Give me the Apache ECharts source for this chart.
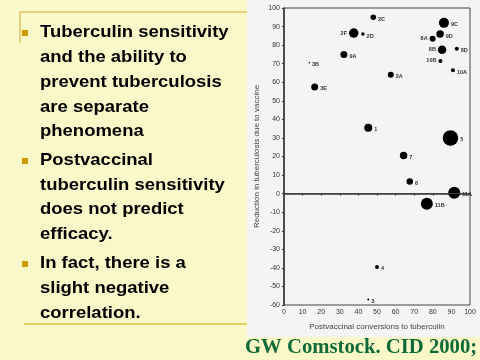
<!DOCTYPE html>
<html><head><meta charset="utf-8">
<script src="https://cdn.jsdelivr.net/npm/echarts@6/dist/echarts.min.js"></script>
<style>html,body{margin:0;padding:0;}#c{width:480px;height:360px;}</style>
</head><body><div id="c"></div>
<script>
var trialLabels = ['2C','2F','2D','9A','3B','3E','2A','1','5','7','9C','9D','8A','8B','8D','10B','10A','6','11A','11B','4','3'];
var conversions = [48,37.5,42.4,32.2,13.6,16.5,57.4,45.3,89.5,64.3,86,83.9,79.9,85,92.9,84.1,90.8,67.6,91.5,76.8,50,45.3];
var reduction =   [95,86.5,86,75,70.5,57.5,64,35.5,30,20.5,92,86,83.5,77.5,78,71.5,66.5,6.5,0.5,-5.5,-39.5,-57];
var bubbleWeight = [5.5,9.5,3.5,7,1.5,7,6,8,15.5,7.5,10,7.5,6,8.5,4,4,4,6.5,12,12,4,2];
var leftLabelTrials = ['2F','8A','8B','10B'];
var xTicks = [0,10,20,30,40,50,60,70,80,90,100];
var yTicks = [-60,-50,-40,-30,-20,-10,0,10,20,30,40,50,60,70,80,90,100];

var bulletLines = [
  {t:'Tuberculin sensitivity', b:true},
  {t:'and the ability to'},
  {t:'prevent tuberculosis'},
  {t:'are separate'},
  {t:'phenomena'},
  {t:'Postvaccinal', b:true},
  {t:'tuberculin sensitivity'},
  {t:'does not predict'},
  {t:'efficacy.'},
  {t:'In fact, there is a', b:true},
  {t:'slight negative'},
  {t:'correlation.'}
];
var lineY = [32,57,82,107,131,160,185,209,234,263,288,313];

var data = trialLabels.map(function(l,i){
  var left = leftLabelTrials.indexOf(l) >= 0;
  return {value:[conversions[i], reduction[i], bubbleWeight[i]], name:l,
    label:{position: left ? 'left' : 'right', offset:[0, left?0:2]}};
});

var graphics = [
  {type:'rect', z:-1, shape:{x:247,y:0,width:233,height:337}, style:{fill:'#F4F4F4'}, silent:true},
  {type:'line', shape:{x1:20,y1:12,x2:247,y2:12}, style:{stroke:'#E0C462',lineWidth:1.5}},
  {type:'line', shape:{x1:20,y1:12,x2:20,y2:43}, style:{stroke:'#E0C462',lineWidth:1.5}},
  {type:'line', shape:{x1:24,y1:324,x2:247,y2:324}, style:{stroke:'#D4A400',lineWidth:1}},
  {type:'text', style:{x:245, y:348, text:'GW Comstock. CID 2000;', fill:'#0E6A36',
     font:'bold 20.7px "Liberation Serif", serif', textVerticalAlign:'middle'}}
];
bulletLines.forEach(function(l,i){
  graphics.push({type:'text', x:40, y:lineY[i], scaleX:1.12,
    style:{x:0, y:0, text:l.t, fill:'#000',
    font:'bold 16.5px "Liberation Sans", Arial, sans-serif', textVerticalAlign:'middle'}});
  if(l.b){
    graphics.push({type:'rect', shape:{x:22,y:lineY[i]-2,width:6,height:6}, style:{fill:'#CC9900'}});
  }
});

var chart = echarts.init(document.getElementById('c'), null, {renderer:'canvas'});
chart.setOption({
  backgroundColor:'#FAF8C8',
  animation:false,
  graphic: graphics,
  grid:{left:284, right:10, top:8, bottom:55, show:true, borderColor:'#444', borderWidth:1, backgroundColor:'transparent'},
  xAxis:{type:'value', min:0, max:100, interval:10,
    name:'Postvaccinal conversions to tuberculin', nameLocation:'middle', nameGap:18,
    nameTextStyle:{fontSize:8, color:'#444', fontFamily:'Liberation Sans'},
    axisLine:{show:true, lineStyle:{color:'#333', width:1.5}},
    axisTick:{show:true, length:2, lineStyle:{color:'#333'}},
    axisLabel:{fontSize:7, color:'#333', margin:4, fontFamily:'Liberation Sans'},
    splitLine:{show:false}},
  yAxis:{type:'value', min:-60, max:100, interval:10,
    name:'Reduction in tuberculosis due to vaccine', nameLocation:'middle', nameGap:23,
    nameTextStyle:{fontSize:8, color:'#444', fontFamily:'Liberation Sans'},
    axisLine:{show:true, lineStyle:{color:'#333', width:1.5}},
    axisTick:{show:true, length:2, lineStyle:{color:'#333'}},
    axisLabel:{fontSize:7, color:'#333', margin:4, fontFamily:'Liberation Sans'},
    splitLine:{show:false}},
  series:[{
    type:'scatter',
    data:data,
    symbolSize:function(v){return v[2];},
    itemStyle:{color:'#000', opacity:1},
    label:{show:true, formatter:'{b}', fontSize:5.5, fontWeight:'bold', color:'#333', distance:2, fontFamily:'Liberation Sans'},
    markLine:{silent:true, symbol:'none', label:{show:false},
      lineStyle:{color:'#444', type:'solid', width:1},
      data:[{yAxis:0}]}
  }]
});
</script></body></html>
